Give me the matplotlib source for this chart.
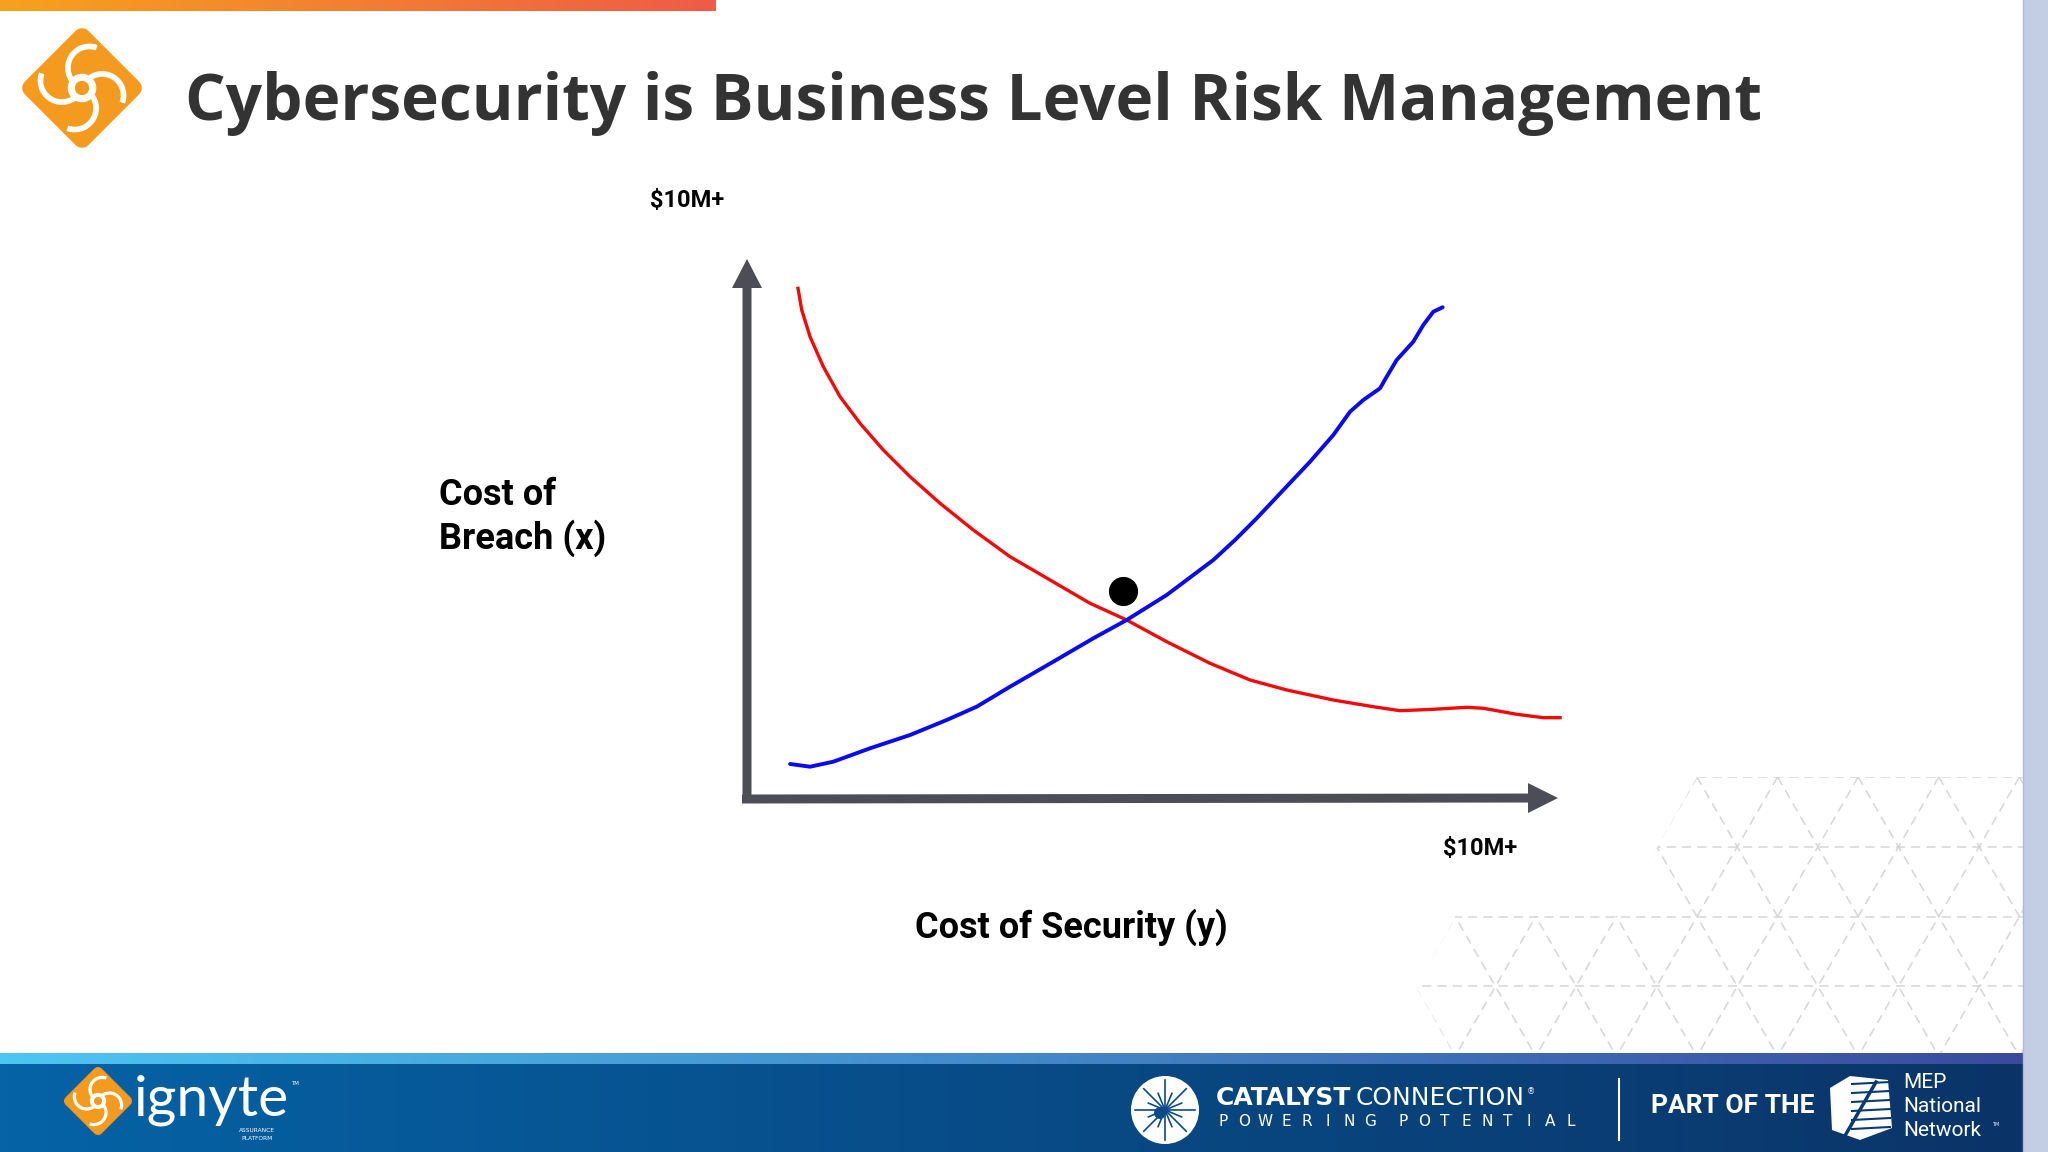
import numpy as np
import matplotlib
matplotlib.use("Agg")
import matplotlib.pyplot as plt
from matplotlib import patches
from matplotlib.colors import LinearSegmentedColormap

# curve values, in $M (x = cost of security, y = cost of breach)
red_x = [0.634, 0.684, 0.788, 0.954, 1.163, 1.413, 1.704, 2.038, 2.413, 2.829, 3.288,
         3.788, 4.288, 4.746, 5.246, 5.788, 6.288, 6.746, 7.329, 7.829, 8.163, 8.579,
         8.996, 9.204, 9.621, 9.954, 10.184]
red_y = [9.487, 9.056, 8.561, 8.006, 7.450, 6.957, 6.463, 5.969, 5.476, 4.981, 4.487,
         4.056, 3.624, 3.315, 2.913, 2.513, 2.204, 2.019, 1.833, 1.709, 1.635, 1.661,
         1.698, 1.680, 1.569, 1.506, 1.506]
blue_x = [0.538, 0.788, 1.079, 1.538, 2.038, 2.496, 2.871, 3.288, 3.829, 4.329, 4.746,
          5.246, 5.829, 6.100, 6.371, 6.704, 7.038, 7.329, 7.538, 7.704, 7.913, 7.996,
          8.121, 8.329, 8.454, 8.579, 8.696]
blue_y = [0.648, 0.598, 0.691, 0.939, 1.185, 1.463, 1.709, 2.080, 2.543, 2.976, 3.315,
          3.778, 4.426, 4.796, 5.198, 5.722, 6.246, 6.741, 7.172, 7.389, 7.606, 7.820,
          8.130, 8.469, 8.778, 9.024, 9.106]
opt_x, opt_y = 4.704, 3.857

title = "Cybersecurity is Business Level Risk Management"
x_label = "Cost of Security (y)"
y_label = ["Cost of", "Breach (x)"]
max_label = "$10M+"

W, H = 2048, 1152
fig = plt.figure(figsize=(W / 100, H / 100), dpi=100)
fig.patch.set_facecolor("white")

# background layer in pixel coords (y down)
bg = fig.add_axes([0, 0, 1, 1])
bg.set_xlim(0, W)
bg.set_ylim(H, 0)
bg.axis("off")


def hgrad(ax, x0, x1, y0, y1, c0, c1, z=1):
    cm = LinearSegmentedColormap.from_list("g", [c0, c1])
    ax.imshow(np.linspace(0, 1, 256)[None, :], cmap=cm, aspect="auto",
              extent=(x0, x1, y1, y0), zorder=z)


def swirl(ax, cx, cy, r, z=5):
    dia = patches.Polygon([(cx, cy - r), (cx + r, cy), (cx, cy + r), (cx - r, cy)],
                          closed=True, fc="#F49B1F", ec="#F49B1F",
                          lw=r * 0.25, joinstyle="round", zorder=z)
    ax.add_patch(dia)
    for k in range(4):
        a = np.deg2rad(90 * k + 20)
        ox, oy = cx + 0.42 * r * np.cos(a), cy + 0.42 * r * np.sin(a)
        ax.add_patch(patches.Arc((ox, oy), 0.84 * r, 0.84 * r,
                                 theta1=np.rad2deg(a) + 180, theta2=np.rad2deg(a) + 360,
                                 color="white", lw=r * 0.08, zorder=z + 1))
    ax.add_patch(patches.Circle((cx, cy), 0.28 * r, fc="white", zorder=z + 2))
    ax.add_patch(patches.Circle((cx, cy), 0.14 * r, fc="#F49B1F", zorder=z + 3))


# top orange bar, right strip
hgrad(bg, 0, 716, 0, 11, "#F7A21D", "#EF5B47", z=2)
bg.add_patch(patches.Rectangle((2023, 0), 25, H, fc="#C3CEE4", ec="none", zorder=8))
bg.plot([2023, 2023], [0, H], color="#AEBBD5", lw=1, zorder=9)

# triangle lattice decoration
s = 80.6
h = s * np.sqrt(3) / 2
clip = patches.Polygon([(1697, 777), (2023, 777), (2023, 1053), (1456, 1058), (1416, 987),
                        (1456, 916), (1619, 916), (1658, 846)], closed=True,
                       fc="none", ec="none", transform=bg.transData)
bg.add_patch(clip)
lattice = []
for k in range(5):
    yy = 777 + k * h
    lattice.append(bg.plot([1300, 2100], [yy, yy], color="#D6D6D6", lw=1.1,
                           ls=(0, (6, 4)), zorder=1)[0])
for n in range(-10, 12):
    x0 = 1697 + n * s
    for d in (-1, 1):
        lattice.append(bg.plot([x0, x0 + d * 4 * s / 2], [777, 777 + 4 * h], color="#D6D6D6",
                               lw=1.1, ls=(0, (6, 4)), zorder=1)[0])
for ln in lattice:
    ln.set_clip_path(clip)

# footer
hgrad(bg, 0, 2023, 1053, 1064, "#4DC6F2", "#3A4B9E", z=3)
hgrad(bg, 0, 2023, 1064, H, "#0563A6", "#0B3468", z=3)

# header
swirl(bg, 82, 88, 51)
bg.text(185, 104, title, fontsize=46, fontweight="bold", family="Open Sans",
        color="#333333", ha="left", va="center", zorder=5)

# footer logos and text
swirl(bg, 98, 1101, 29)
bg.text(134, 1100, "ignyte", fontsize=41, family="Lato", color="white",
        ha="left", va="center", zorder=6)
bg.text(291, 1085, "TM", fontsize=4, color="white", zorder=6)
bg.text(257, 1131, "ASSURANCE", fontsize=4.2, color="white", ha="center", va="center", zorder=6)
bg.text(257, 1139, "PLATFORM", fontsize=4.2, color="white", ha="center", va="center", zorder=6)

bg.add_patch(patches.Circle((1165, 1110), 34, fc="white", zorder=6))
for a in np.arange(0, 180, 22.5):
    r_ = 30 if a % 45 == 0 else 18
    t = np.deg2rad(a)
    bg.plot([1165 - r_ * np.cos(t), 1165 + r_ * np.cos(t)],
            [1110 - r_ * np.sin(t), 1110 + r_ * np.sin(t)], color="#0A4A8A", lw=1.2, zorder=7)
bg.add_patch(patches.Circle((1160, 1113), 6, fc="#0A4A8A", zorder=7))

cat = bg.text(1216, 1098, "CATALYST", fontsize=18, fontweight="bold", family="DejaVu Sans",
              color="white", ha="left", va="center", zorder=6)
fig.canvas.draw()
bb = cat.get_window_extent().transformed(bg.transData.inverted())
con = bg.text(max(bb.x0, bb.x1) + 4, 1098, "CONNECTION", fontsize=18, family="DejaVu Sans",
              color="white", ha="left", va="center", zorder=6)
fig.canvas.draw()
bb2 = con.get_window_extent().transformed(bg.transData.inverted())
bg.text(max(bb2.x0, bb2.x1) + 2, 1092, "®", fontsize=6, color="white",
        ha="left", va="center", zorder=6)
for i, ch in enumerate("POWERING"):
    bg.text(1223 + i * 21, 1122, ch, fontsize=11, family="DejaVu Sans", color="white",
            ha="center", va="center", zorder=6)
for i, ch in enumerate("POTENTIAL"):
    bg.text(1403 + i * 21, 1122, ch, fontsize=11, family="DejaVu Sans", color="white",
            ha="center", va="center", zorder=6)
bg.plot([1619, 1619], [1079, 1140], color="white", lw=1.5, zorder=6)
bg.text(1651, 1106, "PART OF THE", fontsize=19, fontweight="bold", family="Roboto",
        color="white", ha="left", va="center", zorder=6)
mep = patches.Polygon([(1850, 1076), (1888, 1080), (1892, 1128), (1860, 1140),
                       (1832, 1130), (1830, 1088)], closed=True, fc="white", zorder=6)
bg.add_patch(mep)
for i in range(6):
    yy = 1084 + i * 9
    bg.plot([1852, 1890], [yy, yy - 2], color="#0B3A70", lw=1.5, zorder=7)
bg.plot([1846, 1876], [1134, 1082], color="#0B3A70", lw=2.5, zorder=7)
bg.text(1903, 1083, "MEP", fontsize=15, family="Roboto", color="white",
        ha="left", va="center", zorder=6)
bg.text(1903, 1106, "National", fontsize=15, family="Roboto", color="white",
        ha="left", va="center", zorder=6)
bg.text(1903, 1130, "Network", fontsize=15, family="Roboto", color="white",
        ha="left", va="center", zorder=6)
bg.text(1992, 1126, "TM", fontsize=3.5, color="white", zorder=6)

# axis arrows (drawn on background)
arrow_c = "#4D4D57"
bg.add_patch(patches.FancyArrow(747, 803, 0, -544, width=9, head_width=30, head_length=29,
                                length_includes_head=True, fc=arrow_c, ec="none", zorder=4))
bg.add_patch(patches.FancyArrow(742, 799, 816, -1, width=9, head_width=30, head_length=30,
                                length_includes_head=True, fc=arrow_c, ec="none", zorder=4))

# labels around the chart
lab = dict(family="Roboto", fontweight="bold", color="black", zorder=5)
bg.text(687, 201, max_label, fontsize=17, ha="center", va="center", **lab)
bg.text(1480, 849, max_label, fontsize=17, ha="center", va="center", **lab)
bg.text(439, 495, y_label[0], fontsize=26, ha="left", va="center", **lab)
bg.text(439, 538, y_label[1], fontsize=26, ha="left", va="center", **lab)
bg.text(1071, 927, x_label, fontsize=26, ha="center", va="center", **lab)

# data axes: x 0..10.2 over px 747..1563, y 0..10 over px 799..259
ax = fig.add_axes([747 / W, (H - 799) / H, 816 / W, 540 / H])
ax.set_xlim(0, 10.2)
ax.set_ylim(0, 10)
ax.patch.set_alpha(0)
ax.axis("off")
ax.plot(red_x, red_y, color="#F00A0A", lw=2.4, solid_joinstyle="round",
        solid_capstyle="butt", clip_on=False)
ax.plot(blue_x, blue_y, color="#0A0AEE", lw=2.8, solid_joinstyle="round",
        solid_capstyle="round", clip_on=False)
ax.plot([opt_x], [opt_y], "o", color="black", ms=20, clip_on=False)

fig.savefig("out.png", dpi=100, facecolor="white")
